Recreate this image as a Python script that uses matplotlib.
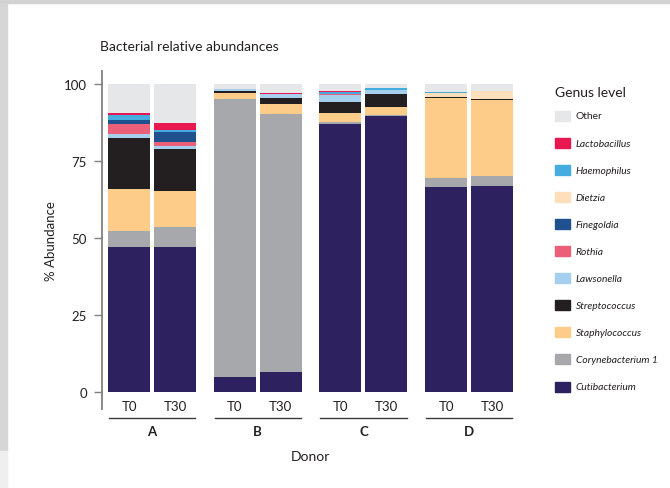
import matplotlib

matplotlib.use("Agg")
import matplotlib.pyplot as plt
import numpy as np
from matplotlib.patches import Rectangle

plt.rcParams["font.family"] = ["Lato", "DejaVu Sans"]

# Data (percent abundance), stacked bottom -> top
donors = ["A", "B", "C", "D"]
timepoints = ["T0", "T30"]
genera = [
    "Cutibacterium", "Corynebacterium 1", "Staphylococcus", "Streptococcus",
    "Lawsonella", "Rothia", "Finegoldia", "Dietzia", "Haemophilus",
    "Lactobacillus", "Other",
]
colors = [
    "#2d2160", "#a7a8ab", "#fdcc88", "#231f20", "#a6cfee", "#ec5f78",
    "#20518f", "#fde0bb", "#45ace0", "#e8174f", "#e6e7e9",
]
# one row per sample: A-T0, A-T30, B-T0, B-T30, C-T0, C-T30, D-T0, D-T30
cutibacterium = [47.3, 47.3, 4.9, 6.6, 87.1, 89.7, 66.7, 67.0]
corynebacterium = [5.2, 6.5, 90.3, 83.8, 0.65, 0.33, 2.9, 3.25]
staphylococcus = [13.6, 11.4, 1.95, 3.25, 2.9, 2.6, 26.0, 24.7]
streptococcus = [16.3, 13.9, 0.65, 1.95, 3.6, 4.2, 0.35, 0.35]
lawsonella = [1.3, 1.0, 0.65, 1.2, 2.3, 1.3, 0.0, 0.0]
rothia = [3.3, 1.0, 0.0, 0.0, 0.35, 0.0, 0.0, 0.0]
finegoldia = [1.3, 3.4, 0.0, 0.0, 0.0, 0.0, 0.0, 0.0]
dietzia = [0.0, 0.0, 0.0, 0.0, 0.0, 0.0, 1.3, 2.6]
haemophilus = [1.6, 0.8, 0.0, 0.0, 0.65, 0.65, 0.35, 0.0]
lactobacillus = [0.8, 2.0, 0.0, 0.4, 0.35, 0.0, 0.0, 0.0]
other = [9.3, 12.7, 1.55, 2.8, 2.1, 1.2, 2.4, 2.1]

values = np.array([
    cutibacterium, corynebacterium, staphylococcus, streptococcus,
    lawsonella, rothia, finegoldia, dietzia, haemophilus,
    lactobacillus, other,
])

W, H = 670, 489


def fx(px):
    return px / W


def fy(py):
    return (H - py) / H


fig = plt.figure(figsize=(6.7, 4.89), dpi=100)

# screenshot frame
fig.patches.append(Rectangle((0, fy(4)), 1, 4 / H, transform=fig.transFigure,
                             color="#d2d2d2", zorder=0))
fig.patches.append(Rectangle((0, fy(452)), fx(7), (452 - 4) / H,
                             transform=fig.transFigure, color="#d6d6d6", zorder=0))
fig.patches.append(Rectangle((0, 0), fx(7), fy(452), transform=fig.transFigure,
                             color="#efefef", zorder=0))

ax = fig.add_axes([fx(102), fy(410), fx(520 - 102), (410 - 72) / H])

group_pitch = 2.517
pair_pitch = 1.095
x = np.array([g * group_pitch + s * pair_pitch
              for g in range(len(donors)) for s in range(len(timepoints))])

bottom = np.zeros(len(x))
for name, col, vals in zip(genera, colors, values):
    ax.bar(x, vals, bottom=bottom, width=1.0, color=col, edgecolor="none",
           label=name)
    bottom += vals

ax.set_xlim(-0.643, 9.31)
ax.set_ylim(-5.42, 104.3)
ax.set_yticks([0, 25, 50, 75, 100])
ax.set_xticks([])
for side in ["top", "right", "bottom"]:
    ax.spines[side].set_visible(False)
ax.spines["left"].set_color("#808080")
ax.spines["left"].set_linewidth(1.3)
ax.tick_params(axis="y", length=5.8, width=1.0, color="#808080", pad=5,
               labelsize=9.5, labelcolor="#231f20")
ax.set_ylabel("% Abundance", fontsize=9.5, color="#231f20", labelpad=5)

# sample labels, donor brackets and donor letters
for i, xi in enumerate(x):
    ax.text(xi, -4.5, timepoints[i % 2], ha="center", va="center",
            fontsize=9.5, color="#231f20")
for g, d in enumerate(donors):
    x0 = x[2 * g] - 0.48
    x1 = x[2 * g + 1] + 0.48
    ax.plot([x0, x1], [-8.4, -8.4], color="#3a3a3a", lw=1.0, clip_on=False)
    ax.text((x0 + x1) / 2, -12.4, d, ha="center", va="center",
            fontsize=9.5, fontweight="bold", color="#231f20")
ax.text((x[0] + x[-1]) / 2, -20.7, "Donor", ha="center", va="center",
        fontsize=10, color="#231f20")

fig.text(fx(100), fy(47), "Bacterial relative abundances", ha="left",
         va="center", fontsize=10, color="#231f20")

# legend
fig.text(fx(555), fy(93), "Genus level", ha="left", va="center",
         fontsize=10, color="#231f20")
for i, (name, col) in enumerate(zip(genera[::-1], colors[::-1])):
    yc = 117 + i * 27.05
    fig.patches.append(Rectangle((fx(555), fy(yc + 5)), fx(15), 10 / H,
                                 transform=fig.transFigure, color=col))
    fig.text(fx(576), fy(yc), name, ha="left", va="center", fontsize=7.4,
             color="#231f20", style="normal" if name == "Other" else "italic")

fig.savefig("out.png", dpi=100)
